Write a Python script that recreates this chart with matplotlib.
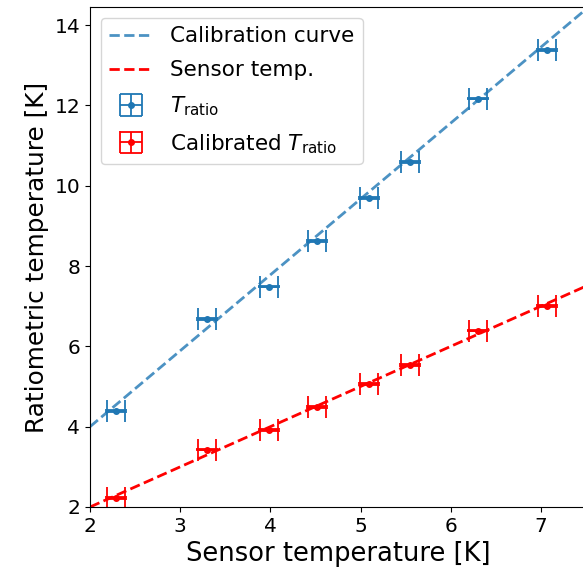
import numpy as np
import matplotlib
matplotlib.use("Agg")
import matplotlib.pyplot as plt

# sensor readings and ratiometric temperatures [K]
sensor_T = [2.29, 3.30, 3.98, 4.52, 5.09, 5.55, 6.30, 7.07]
ratio_T = [4.39, 6.68, 7.49, 8.63, 9.70, 10.59, 12.17, 13.38]
calibrated_T = [2.22, 3.43, 3.91, 4.49, 5.06, 5.53, 6.39, 7.01]
x_err = 0.1
y_err = 0.02

# linear calibration T_ratio = a*T_sensor + b
cal_slope = 1.89
cal_offset = 0.22

fig = plt.figure(figsize=(5.83, 5.75), dpi=100)
ax = fig.add_axes([90 / 583, 68 / 575, 496 / 583, 500 / 575])

t = np.linspace(2, 7.5, 100)
ax.plot(t, cal_slope * t + cal_offset, "--", color="tab:blue", alpha=0.8,
        lw=2, label="Calibration curve")
ax.plot(t, t, "--", color="red", lw=2, label="Sensor temp.")

ax.errorbar(sensor_T, ratio_T, xerr=x_err, yerr=y_err, fmt="o", ms=4,
            color="tab:blue", capsize=8, elinewidth=1.3, capthick=1.3,
            label=r"$T_{\rm ratio}$")
ax.errorbar(sensor_T, calibrated_T, xerr=x_err, yerr=y_err, fmt="o", ms=4,
            color="red", capsize=8, elinewidth=1.3, capthick=1.3,
            label=r"Calibrated $T_{\rm ratio}$")

ax.set_xlim(2, 7.5)
ax.set_ylim(2, 14.45)
ax.set_xticks([2, 3, 4, 5, 6, 7])
ax.set_yticks([2, 4, 6, 8, 10, 12, 14])
ax.tick_params(labelsize=14.5)
ax.set_xlabel("Sensor temperature [K]", fontsize=18.5)
ax.set_ylabel("Ratiometric temperature [K]", fontsize=17.8)
ax.legend(loc="upper left", fontsize=15.5, labelspacing=0.65)

fig.savefig("out.png", dpi=100)
